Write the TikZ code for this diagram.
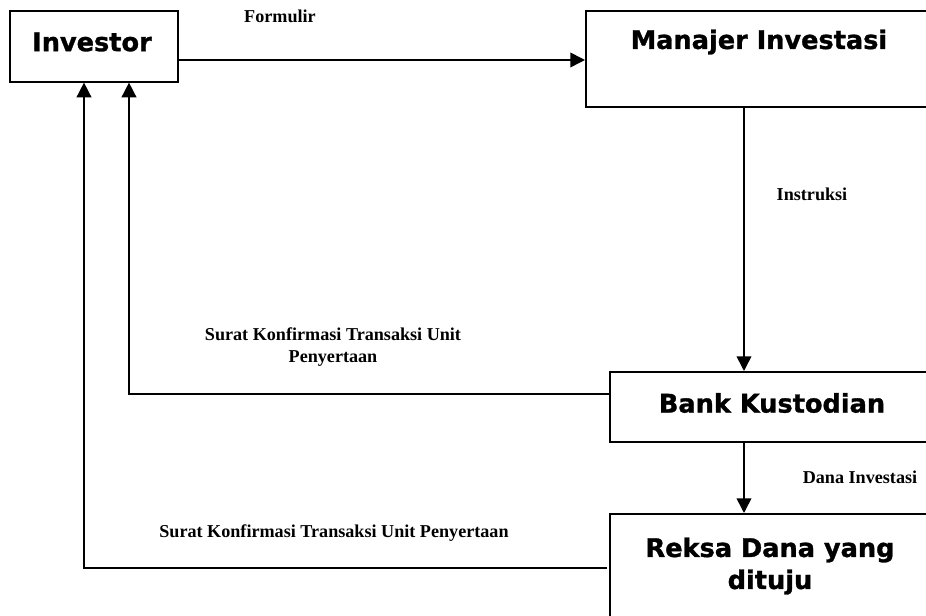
\documentclass[tikz,border=0pt]{standalone}
\usepackage{fontspec}
\setmainfont{Liberation Serif}
\newfontfamily\boxfont{DejaVu Sans}[BoldFeatures={FakeBold=1.2}]
\usetikzlibrary{arrows.meta}
\tikzset{
  box/.style={draw=black, line width=1.2pt, fill=white, inner sep=0pt, anchor=north west},
  boxtext/.style={font=\boxfont\bfseries\fontsize{19.2pt}{24pt}\selectfont, inner sep=0pt, align=center},
  lbl/.style={font=\bfseries\fontsize{13.6pt}{16pt}\selectfont, inner sep=0pt, align=center},
  arr/.style={draw=black, line width=1.2pt, -{Triangle[length=11pt,width=11pt]}},
  conn/.style={draw=black, line width=1.2pt}
}
\begin{document}
\begin{tikzpicture}[x=0.75pt,y=-0.75pt]
\useasboundingbox (0,0) rectangle (926,616);
\clip (0,0) rectangle (926,616);
% boxes
\node[box, minimum width=126pt, minimum height=53.25pt] (inv) at (9,10) {};
\node[box, minimum width=261pt, minimum height=72pt] (mi) at (585,10) {};
\node[box, minimum width=244.5pt, minimum height=52.5pt] (bk) at (609,371) {};
\node[box, minimum width=244.5pt, minimum height=90pt] (rd) at (609,513) {};
% box texts
\node[boxtext] (tinv) at (92,42) {Investor};
\node[boxtext] (tmi) at (759,42) {Manajer Investasi};
\node[boxtext] (tbk) at (772,403) {Bank Kustodian};
\node[boxtext] (trd) at (770,566) {Reksa Dana yang\\dituju};
% connectors
\draw[arr] (inv.east |- 0,60) -- (mi.west |- 0,60);
\draw[arr] (mi.south -| 744,0) -- (bk.north -| 744,0);
\draw[arr] (bk.south -| 744,0) -- (rd.north -| 744,0);
\draw[arr] (bk.west |- 0,394) -| (inv.south -| 129,0);
\draw[arr] ([xshift=-1.5pt]rd.west |- 0,568) -| (inv.south -| 84,0);
% labels
\node[lbl] (lf) at (280,16) {Formulir};
\node[lbl] (li) at (812,194) {Instruksi};
\node[lbl] (ld) at (860,477) {Dana Investasi};
\node[lbl] (ls1) at (333,347) {Surat Konfirmasi Transaksi Unit\\Penyertaan};
\node[lbl] (ls2) at (334,533) {Surat Konfirmasi Transaksi Unit Penyertaan};
\end{tikzpicture}
\end{document}
